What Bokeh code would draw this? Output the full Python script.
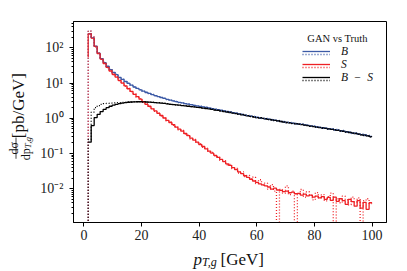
import numpy as np
from bokeh.plotting import figure
from bokeh.layouts import column, row
from bokeh.core.properties import value
from bokeh.models import FixedTicker, Label, Legend, LegendItem, Range1d
from bokeh.embed import file_html
from bokeh.resources import INLINE

# ---------------- data ----------------
bin_lo, bin_hi, n_bins = 1.5, 100.0, 95

S_gan = [250, 190, 110, 69, 48, 36, 28, 22, 17.8, 14.8,
         12.0, 10.0, 8.3, 6.9, 5.8, 4.8, 4.1, 3.5, 2.95, 2.5,
         2.2, 1.86, 1.62, 1.38, 1.20, 1.02, 0.87, 0.76, 0.66, 0.56,
         0.49, 0.43, 0.37, 0.32, 0.275, 0.24, 0.21, 0.18, 0.158, 0.135,
         0.117, 0.102, 0.089, 0.078, 0.068, 0.059, 0.051, 0.046, 0.040, 0.035,
         0.030, 0.027, 0.0234, 0.0209, 0.0186, 0.0166, 0.0151, 0.0138, 0.0129, 0.0120,
         0.0112, 0.0098, 0.0104, 0.0092, 0.0090, 0.0083, 0.0086, 0.0077, 0.0080, 0.0072,
         0.0074, 0.0066, 0.0070, 0.0063, 0.0066, 0.0058, 0.0062, 0.0055, 0.0060, 0.0050,
         0.0057, 0.0047, 0.0058, 0.0044, 0.0052, 0.0046, 0.0036, 0.0050, 0.0043, 0.0032,
         0.0046, 0.0028, 0.0041, 0.0026, 0.0040]

S_truth = [300, 205, 105, 72, 47, 37.5, 27, 23, 17.2, 15.3,
           11.6, 10.3, 8.1, 7.1, 5.6, 5.0, 3.95, 3.6, 2.85, 2.6,
           2.1, 1.92, 1.57, 1.43, 1.15, 1.06, 0.84, 0.79, 0.63, 0.58,
           0.47, 0.45, 0.355, 0.335, 0.26, 0.25, 0.20, 0.19, 0.15, 0.142,
           0.11, 0.108, 0.085, 0.082, 0.064, 0.063, 0.048, 0.049, 0.037, 0.038,
           0.028, 0.030, 0.022, 0.024, 0.019, 0.0215, 0.014, 0.018, 0.0125, 0.0145,
           0.0098, 0.013, 0.0085, 0, 0.0095, 0.0075, 0.012, 0.0068, 0.0085, 0,
           0.0072, 0.0095, 0.0058, 0.0082, 0.0065, 0.0048, 0.0078, 0.0055, 0.0068, 0.0045,
           0.0060, 0.0075, 0, 0.0052, 0.0040, 0.0062, 0.0048, 0.0035, 0.0058, 0.0042,
           0.0055, 0, 0.0046, 0.0052, 0.0038]

D_gan = [0.21, 0.62, 1.05, 1.3, 1.55, 1.8, 2.0, 2.2, 2.35, 2.5,
         2.6, 2.7, 2.78, 2.85, 2.9, 2.93, 2.95, 2.95, 2.93, 2.9,
         2.87, 2.83, 2.8, 2.75, 2.7, 2.65, 2.58, 2.5, 2.45, 2.4,
         2.35, 2.3, 2.25, 2.2, 2.15, 2.1, 2.05, 2.0, 1.95, 1.9,
         1.84, 1.78, 1.72, 1.67, 1.62, 1.56, 1.51, 1.46, 1.41, 1.36,
         1.31, 1.26, 1.21, 1.17, 1.13, 1.09, 1.05, 1.02, 0.99, 0.96,
         0.93, 0.90, 0.87, 0.84, 0.81, 0.78, 0.76, 0.74, 0.72, 0.70,
         0.68, 0.66, 0.64, 0.62, 0.60, 0.58, 0.56, 0.545, 0.53, 0.515,
         0.50, 0.485, 0.47, 0.455, 0.44, 0.425, 0.41, 0.395, 0.38, 0.37,
         0.355, 0.34, 0.33, 0.315, 0.30]

D_truth = [0.25, 1.5, 2.0, 2.3, 2.5, 2.6, 2.65, 2.7, 2.75, 2.8,
           2.78, 2.83, 2.85, 2.9, 2.88, 2.95, 2.93, 2.97, 2.9, 2.92,
           2.85, 2.86, 2.78, 2.78, 2.7, 2.66, 2.6, 2.52, 2.47, 2.42,
           2.36, 2.32, 2.24, 2.23, 2.14, 2.12, 2.04, 2.03, 1.94, 1.93,
           1.83, 1.8, 1.71, 1.7, 1.6, 1.58, 1.5, 1.48, 1.40, 1.38,
           1.30, 1.28, 1.20, 1.19, 1.12, 1.11, 1.04, 1.04, 0.98, 0.97,
           0.92, 0.91, 0.86, 0.86, 0.80, 0.79, 0.75, 0.75, 0.71, 0.71,
           0.67, 0.67, 0.63, 0.63, 0.59, 0.59, 0.55, 0.555, 0.52, 0.52,
           0.49, 0.495, 0.465, 0.46, 0.435, 0.43, 0.405, 0.40, 0.375, 0.375,
           0.35, 0.345, 0.325, 0.32, 0.295]

B_gan = [250, 191, 111, 70.3, 49.6, 37.8, 30.0, 24.2, 20.2, 17.3,
         14.6, 12.7, 11.1, 9.75, 8.7, 7.73, 7.05, 6.45, 5.88, 5.4,
         5.07, 4.69, 4.42, 4.13, 3.9, 3.67, 3.45, 3.26, 3.11, 2.96,
         2.84, 2.73, 2.62, 2.52, 2.43, 2.34, 2.26, 2.18, 2.11, 2.04,
         1.96, 1.88, 1.81, 1.75, 1.69, 1.62, 1.56, 1.51, 1.45, 1.40,
         1.34, 1.29, 1.23, 1.19, 1.15, 1.11, 1.07, 1.03, 1.00, 0.97,
         0.94, 0.91, 0.88, 0.85, 0.82, 0.79, 0.77, 0.75, 0.73, 0.71,
         0.69, 0.67, 0.65, 0.63, 0.61, 0.59, 0.57, 0.55, 0.54, 0.52,
         0.505, 0.49, 0.475, 0.46, 0.445, 0.43, 0.415, 0.40, 0.385, 0.375,
         0.36, 0.345, 0.335, 0.32, 0.305]

B_truth = [300, 200, 108, 72, 48.5, 38.5, 29.2, 24.8, 19.8, 17.6,
           14.3, 12.9, 10.9, 9.9, 8.6, 7.85, 6.95, 6.55, 5.8, 5.5,
           5.0, 4.75, 4.36, 4.18, 3.86, 3.72, 3.41, 3.3, 3.07, 3.0,
           2.8, 2.77, 2.58, 2.55, 2.4, 2.37, 2.23, 2.2, 2.08, 2.07,
           1.93, 1.91, 1.78, 1.77, 1.66, 1.64, 1.54, 1.53, 1.43, 1.42,
           1.32, 1.31, 1.21, 1.21, 1.13, 1.13, 1.05, 1.05, 0.98, 0.99,
           0.92, 0.93, 0.86, 0.87, 0.80, 0.81, 0.75, 0.77, 0.71, 0.73,
           0.67, 0.69, 0.63, 0.65, 0.60, 0.61, 0.56, 0.57, 0.52, 0.54,
           0.49, 0.51, 0.46, 0.48, 0.43, 0.45, 0.40, 0.42, 0.37, 0.39,
           0.35, 0.36, 0.32, 0.335, 0.295]

x_ticks = [0, 20, 40, 60, 80, 100]
y_ticks = [1e-2, 1e-1, 1e0, 1e1, 1e2]
y_tick_labels = ["10\u207b\u00b2", "10\u207b\u00b9", "10\u2070", "10\u00b9", "10\u00b2"]
legend_title = "GAN vs Truth"
legend_labels = ["B", "S", "B\u2002\u2212\u2002S"]

# ---------------- styling ----------------
BLUE = "#3c5aa6"
RED = "#ee2024"
BLACK = "#000000"
SERIF = "Liberation Serif"
TXT = "#111111"
FLOOR = 1e-7

edges = np.linspace(bin_lo, bin_hi, n_bins + 1)


def step_xy(vals, start=None):
    v = np.array(vals, dtype=float)
    v = np.where(v > 0, v, FLOOR)
    s = v[0] if start is None else start
    x = np.concatenate([[edges[0]], edges])
    y = np.concatenate([[s], v, [v[-1]]])
    return x, y


p = figure(frame_width=313, frame_height=201,
           x_range=Range1d(-3.6, 105), y_range=Range1d(1.1e-3, 560),
           y_axis_type="log", output_backend="svg", toolbar_location=None,
           min_border_left=38, min_border_right=13, min_border_top=21,
           min_border_bottom=24)
p.grid.visible = False
p.outline_line_color = "black"
p.outline_line_width = 1
p.background_fill_color = "white"
p.border_fill_color = "white"

p.xaxis.ticker = FixedTicker(ticks=x_ticks, minor_ticks=[])
minor = [m * 10.0 ** e for e in range(-3, 3) for m in range(2, 10)]
p.yaxis.ticker = FixedTicker(ticks=y_ticks, minor_ticks=minor)
p.yaxis.major_label_overrides = {t: l for t, l in zip(y_ticks, y_tick_labels)}
for ax in (p.xaxis, p.yaxis):
    ax.major_label_text_font = SERIF
    ax.major_label_text_font_size = "14px"
    ax.major_label_text_color = "#222222"
    ax.major_tick_out = 4
    ax.major_tick_in = 0
    ax.minor_tick_out = 2
    ax.minor_tick_in = 0
    ax.axis_line_color = "black"
p.xaxis.major_label_standoff = 3
p.yaxis.major_label_standoff = 6

lw = 1.3
dash = "1 2"
renderers = {}
for name, vals, col, start in [("B", B_gan, BLUE, None), ("S", S_gan, RED, 54),
                               ("D", D_gan, BLACK, None)]:
    x, y = step_xy(vals, start)
    renderers[name] = p.step(x, y, mode="after", line_color=col, line_width=lw)
for name, vals, col in [("Bt", B_truth, BLUE), ("St", S_truth, RED), ("Dt", D_truth, BLACK)]:
    x, y = step_xy(vals, FLOOR)
    renderers[name] = p.step(x, y, mode="after", line_color=col, line_width=lw,
                             line_dash=dash)

# legend: one single-item legend per line sample (solid above dotted)
common = dict(glyph_width=28, glyph_height=20, label_height=10, spacing=0,
              padding=0, margin=0, label_standoff=11, border_line_color=None,
              background_fill_alpha=0, label_text_font=SERIF,
              label_text_font_style="italic", label_text_font_size="11.5px",
              label_text_line_height=1.0, label_text_color=TXT)
legend_rows = [("B", "Bt"), ("S", "St"), ("D", "Dt")]
for k, (solid, dotted) in enumerate(legend_rows):
    c_solid = 51.0 + 13 * k
    p.add_layout(Legend(items=[LegendItem(label=legend_labels[k], renderers=[renderers[solid]])],
                        location=(229, 212 - c_solid), **common))
    p.add_layout(Legend(items=[LegendItem(label="", renderers=[renderers[dotted]])],
                        location=(229, 212 - c_solid - 2.8), **common))

p.add_layout(Label(text=legend_title, x=264, y=184.5, x_units="screen", y_units="screen",
                   text_font=SERIF, text_font_size="10.5px", text_align="center",
                   text_baseline="middle", text_color=TXT))


def text_panel(w, h):
    f = figure(width=w, height=h, x_range=Range1d(0, w), y_range=Range1d(0, h),
               output_backend="svg", toolbar_location=None, min_border=0,
               x_axis_location=None, y_axis_location=None)
    f.grid.visible = False
    f.outline_line_color = None
    return f


def txt(f, text, x, y, size, style="normal", align="left", baseline="alphabetic", angle=0.0):
    f.text(x=[x], y=[y], text=[text], angle=angle, text_font=value(SERIF),
           text_font_size=value(size), text_font_style=style, text_align=align,
           text_baseline=baseline, text_color=TXT)


# y axis label panel (rotated pieces)
yfig = text_panel(35, 246)
a = np.pi / 2
txt(yfig, "[pb/GeV]", 17.5, 143, "17px", align="center", baseline="middle", angle=a)
txt(yfig, "d\u03c3", 13, 91, "12px", align="center", baseline="alphabetic", angle=a)
yfig.segment(x0=[15.5], y0=[78], x1=[15.5], y1=[104], line_color=TXT, line_width=0.8)
txt(yfig, "dp", 25, 91, "12px", align="right", baseline="alphabetic", angle=a)
txt(yfig, "T,g", 27.5, 91, "9px", style="italic", align="left", baseline="alphabetic", angle=a)

# x axis label panel
xfig = text_panel(399, 25)
txt(xfig, "p", 193, 12.5, "17px", style="italic")
txt(xfig, "T,g", 201.5, 9.5, "12px", style="italic")
txt(xfig, "[GeV]", 220, 12.5, "17px")

layout = column(row(yfig, p, spacing=0), xfig, spacing=0)
open("out.html", "w").write(file_html(layout, INLINE))
